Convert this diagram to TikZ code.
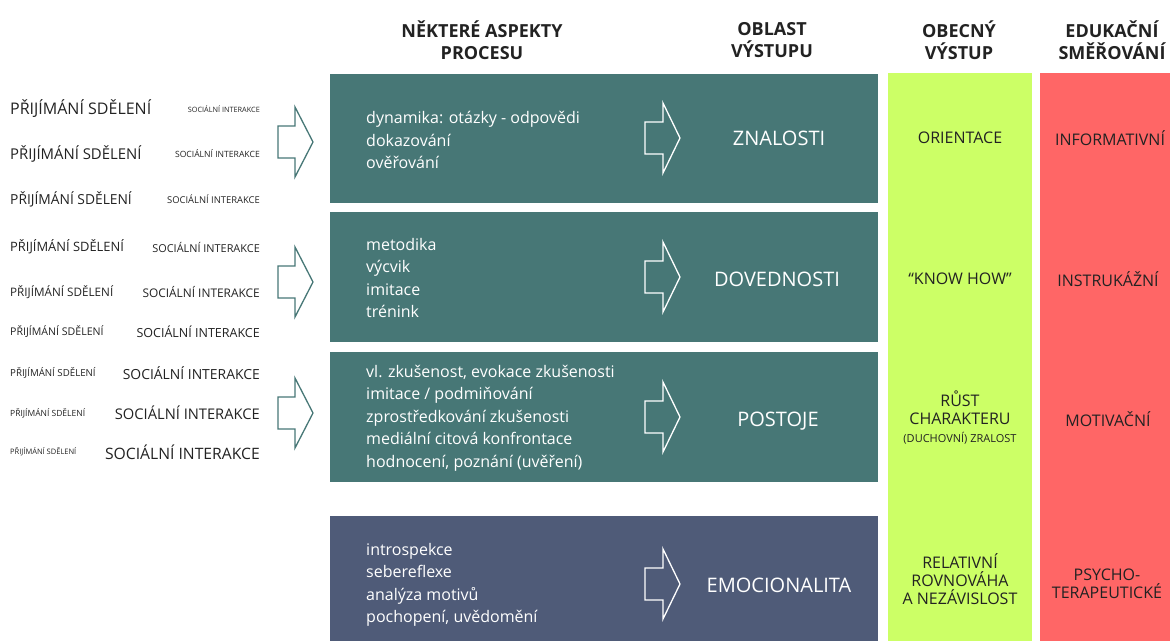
\documentclass[tikz,border=0pt]{standalone}
\usepackage{fontspec}
\setmainfont{Open Sans}
\usetikzlibrary{positioning}
\definecolor{tealbox}{HTML}{477776}
\definecolor{slatebox}{HTML}{4F5B78}
\definecolor{limecol}{HTML}{CCFF66}
\definecolor{redcol}{HTML}{FF6666}
\definecolor{inkgrey}{HTML}{222222}
\tikzset{every node/.style={inner sep=0pt}, head/.style={font=\bfseries\fontsize{18}{22}\selectfont, align=center, text=inkgrey},
  recv/.style={anchor=west, text=inkgrey}, soc/.style={anchor=east, text=inkgrey},
  boxtext/.style={anchor=west, align=left, text=white, font=\fontsize{16}{22.5}\selectfont},
  outtext/.style={text=white, font=\fontsize{20}{24}\selectfont},
  coltext/.style={align=center, text=inkgrey, font=\fontsize{16}{18}\selectfont},
  hollow/.style={line width=1.3pt, line join=miter}}

\begin{document}
\begin{tikzpicture}[x=1pt,y=-1pt]
  \useasboundingbox (0,0) rectangle (1170,641);
  \node[head] (hproc) at (482,40) {NĚKTERÉ ASPEKTY\\PROCESU};
  \node[head] (hobl)  at (772,40) {OBLAST\\VÝSTUPU};
  \node[head] (hobe)  at (959,40) {OBECNÝ\\VÝSTUP};
  \node[head] (hedu)  at (1112,40) {EDUKAČNÍ\\SMĚŘOVÁNÍ};
  \foreach \y/\ps/\ss [count=\i] in {109/16/7.3, 154/14.9/8.6, 199/13.8/9.4, 247/12.9/10.9, 292/11.7/11.9,
      332/10.6/12.5, 373/9.7/13.9, 413/8.5/14.7, 452/7.5/15.7} {
    \node[recv, font=\fontsize{\ps}{\ps}\selectfont] (recv\i) at (10,\y) {PŘIJÍMÁNÍ SDĚLENÍ};
    \node[soc, font=\fontsize{\ss}{\ss}\selectfont] (soc\i) at (260,\y) {SOCIÁLNÍ INTERAKCE};
  }
  \foreach \y in {142,282,413}
    \draw[hollow, tealbox, shift={(278,\y)}] (0,-16) -- (17,-16) -- (17,-35) -- (35,0) -- (17,35) -- (17,16) -- (0,16) -- cycle;
  \fill[tealbox] (330,74) rectangle (878,203);
  \fill[tealbox] (330,212) rectangle (878,342);
  \fill[tealbox] (330,352) rectangle (878,482);
  \fill[slatebox] (330,516) rectangle (878,641);
  \fill[limecol] (888,73) rectangle (1032,641);
  \fill[redcol] (1040,73) rectangle (1170,641);
  \foreach \y in {138,277,417,584}
    \draw[hollow, white, shift={(645,\y)}] (0,-16) -- (18,-16) -- (18,-35) -- (35,0) -- (18,35) -- (18,16) -- (0,16) -- cycle;
  \node[boxtext] (procA) at (366,140) {dynamika: otázky - odpovědi\\dokazování\\ověřování};
  \node[boxtext] (procB) at (366,278) {metodika\\výcvik\\imitace\\trénink};
  \node[boxtext] (procC) at (366,418) {vl. zkušenost, evokace zkušenosti\\imitace / podmiňování\\zprostředkování zkušenosti\\mediální citová konfrontace\\hodnocení, poznání (uvěření)};
  \node[boxtext] (procD) at (366,585) {introspekce\\sebereflexe\\analýza motivů\\pochopení, uvědomění};
  \node[outtext] (outA) at (779,138) {ZNALOSTI};
  \node[outtext] (outB) at (777,279) {DOVEDNOSTI};
  \node[outtext] (outC) at (778,421) {POSTOJE};
  \node[outtext] (outD) at (779,585) {EMOCIONALITA};
  \node[coltext] (genA) at (960,138) {ORIENTACE};
  \node[coltext] (genB) at (960,279) {“KNOW HOW”};
  \node[coltext] (genC) at (960,418) {RŮST\\CHARAKTERU\\{\fontsize{11}{20}\selectfont (DUCHOVNÍ) ZRALOST}};
  \node[coltext] (genD) at (960,579) {RELATIVNÍ\\ROVNOVÁHA\\A NEZÁVISLOST};
  \node[coltext] (eduA) at (1110,138) {INFORMATIVNÍ};
  \node[coltext] (eduB) at (1108,279) {INSTRUKÁŽNÍ};
  \node[coltext] (eduC) at (1108,419) {MOTIVAČNÍ};
  \node[coltext] (eduD) at (1107,584) {PSYCHO-\\TERAPEUTICKÉ};
\end{tikzpicture}
\end{document}
